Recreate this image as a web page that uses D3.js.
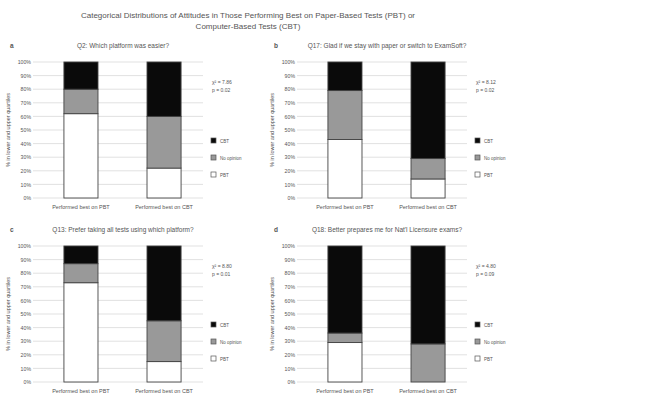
<!DOCTYPE html>
<html>
<head>
<meta charset="utf-8">
<script src="https://cdn.jsdelivr.net/npm/d3@7"></script>
<style>
  body { margin: 0; background: #fff; }
  svg text { font-family: "Liberation Sans", Arial, sans-serif; fill: #555; }
</style>
</head>
<body>
<div id="chart"></div>
<script>
// chart data
var mainTitle = ["Categorical Distributions of Attitudes in Those Performing Best on Paper-Based Tests (PBT) or",
                 "Computer-Based Tests (CBT)"];
var panelLetters = ["a", "b", "c", "d"];
var questions = ["Q2: Which platform was easier?",
                 "Q17: Glad if we stay with paper or switch to ExamSoft?",
                 "Q13: Prefer taking all tests using which platform?",
                 "Q18: Better prepares me for Nat'l Licensure exams?"];
var groups = ["Performed best on PBT", "Performed best on CBT"];
var responses = ["PBT", "No opinion", "CBT"];
// percent per panel: [best on PBT, best on CBT]
var pbtVals       = [[62, 22], [43, 14], [73, 15], [29, 0]];
var noOpinionVals = [[18, 38], [36, 15], [14, 30], [7, 28]];
var cbtVals       = [[20, 40], [21, 71], [13, 55], [64, 72]];
var chiVals = ["7.86", "8.12", "8.80", "4.80"];
var pVals = ["0.02", "0.02", "0.01", "0.09"];
var yTicks = [0, 10, 20, 30, 40, 50, 60, 70, 80, 90, 100];

var colors = { "PBT": "#ffffff", "No opinion": "#999999", "CBT": "#0a0a0a" };

var svg = d3.select("#chart").append("svg")
  .attr("width", 668)
  .attr("height", 398);

svg.selectAll("text.maintitle")
  .data(mainTitle)
  .enter().append("text")
  .attr("class", "maintitle")
  .attr("x", 248)
  .attr("y", function(d, i) { return 18 + i * 11; })
  .attr("text-anchor", "middle")
  .style("font-size", "8px")
  .text(function(d) { return d; });

var origins = [[0, 62], [264, 62], [0, 246], [264, 246]];
var plotH = 136;

var x = d3.scaleBand().domain(groups).range([39, 206])
  .paddingInner(0.59).paddingOuter(0.3);
var y = d3.scaleLinear().domain([0, 100]).range([plotH, 0]);

panelLetters.forEach(function(letter, k) {
  var g = svg.append("g")
    .attr("transform", "translate(" + origins[k][0] + "," + origins[k][1] + ")");

  g.append("text").attr("x", 10).attr("y", -14)
    .style("font-size", "6.5px").style("font-weight", "bold").text(letter);
  g.append("text").attr("x", 123).attr("y", -14)
    .attr("text-anchor", "middle").style("font-size", "6.5px").text(questions[k]);

  // gridlines
  g.selectAll("line.grid")
    .data(yTicks)
    .enter().append("line")
    .attr("x1", 33).attr("x2", 203)
    .attr("y1", function(d) { return y(d); })
    .attr("y2", function(d) { return y(d); })
    .attr("stroke", "#d9d9d9").attr("stroke-width", 0.8);

  var yAxis = g.append("g").attr("transform", "translate(31,0)")
    .call(d3.axisLeft(y).tickValues(yTicks).tickSize(0).tickPadding(0)
      .tickFormat(function(d) { return d + "%"; }));
  yAxis.select(".domain").remove();
  yAxis.selectAll("text").style("font-size", "5.2px").style("fill", "#555")
    .style("font-family", "Liberation Sans, Arial, sans-serif");

  g.append("text")
    .attr("transform", "translate(10," + (plotH / 2) + ") rotate(-90)")
    .attr("text-anchor", "middle").style("font-size", "5.5px")
    .text("% in lower and upper quartiles");

  // stacked bars
  var rows = groups.map(function(gr, i) {
    return { group: gr, "PBT": pbtVals[k][i], "No opinion": noOpinionVals[k][i], "CBT": cbtVals[k][i] };
  });
  var stacked = d3.stack().keys(responses)(rows);

  g.selectAll("g.layer")
    .data(stacked)
    .enter().append("g")
    .attr("fill", function(d) { return colors[d.key]; })
    .selectAll("rect")
    .data(function(d) { return d; })
    .enter().append("rect")
    .attr("x", function(d) { return x(d.data.group); })
    .attr("width", x.bandwidth())
    .attr("y", function(d) { return y(d[1]); })
    .attr("height", function(d) { return y(d[0]) - y(d[1]); })
    .attr("stroke", "#444").attr("stroke-width", 0.9);

  g.selectAll("text.xlab")
    .data(groups)
    .enter().append("text")
    .attr("x", function(d) { return x(d) + x.bandwidth() / 2; })
    .attr("y", plotH + 11)
    .attr("text-anchor", "middle").style("font-size", "5.5px")
    .text(function(d) { return d; });

  // stats
  var st = g.append("text").attr("x", 212).attr("y", 22).style("font-size", "5px");
  st.append("tspan").text("\u03C7\u00B2 = " + chiVals[k]);
  st.append("tspan").attr("x", 212).attr("dy", 8).text("p = " + pVals[k]);

  // legend
  var leg = g.selectAll("g.leg")
    .data(responses.slice().reverse())
    .enter().append("g")
    .attr("transform", function(d, i) { return "translate(211," + (76 + i * 17) + ")"; });
  leg.append("rect").attr("width", 5).attr("height", 5)
    .attr("fill", function(d) { return colors[d]; })
    .attr("stroke", "#555").attr("stroke-width", 0.7);
  leg.append("text").attr("x", 9).attr("y", 4.5).style("font-size", "4.5px")
    .text(function(d) { return d; });
});
</script>
</body>
</html>
